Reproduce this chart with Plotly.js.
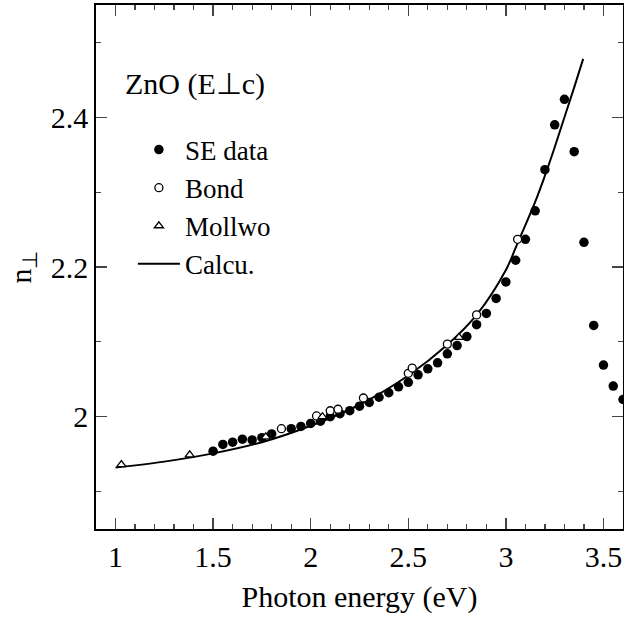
<!DOCTYPE html>
<html>
<head>
<meta charset="utf-8">
<script src="https://cdn.plot.ly/plotly-3.0.1.min.js"></script>
<style>html,body{margin:0;padding:0;background:#fff;}#chart{width:624px;height:623px;}</style>
</head>
<body>
<div id="chart"></div>
<script>
// SE data (filled circles)
const seE = [1.50,1.55,1.60,1.65,1.70,1.75,1.80,1.90,1.95,2.00,2.05,2.10,2.15,2.20,2.25,2.30,2.35,2.40,2.45,2.50,2.55,2.60,2.65,2.70,2.75,2.80,2.85,2.90,2.95,3.00,3.05,3.10,3.15,3.20,3.25,3.30,3.35,3.40,3.45,3.50,3.55,3.60];
const seN = [1.954,1.963,1.966,1.970,1.969,1.972,1.977,1.984,1.987,1.991,1.994,2.000,2.004,2.008,2.014,2.019,2.026,2.032,2.040,2.046,2.056,2.064,2.072,2.084,2.095,2.107,2.123,2.138,2.158,2.180,2.209,2.237,2.275,2.330,2.390,2.424,2.354,2.233,2.122,2.069,2.041,2.023];
// Bond (open circles)
const bondE = [1.85,2.03,2.10,2.14,2.27,2.50,2.52,2.70,2.85,3.06];
const bondN = [1.984,2.001,2.008,2.010,2.025,2.058,2.065,2.097,2.136,2.237];
// Mollwo (open triangles)
const molE = [1.03,1.38,1.77,2.06,2.76];
const molN = [1.936,1.949,1.973,2.000,2.106];
// Calculated curve
const calE = [1.00,1.25,1.50,1.75,2.00,2.25,2.50,2.70,2.85,3.00,3.06,3.15,3.20,3.25,3.30,3.35,3.396];
const calN = [1.932,1.940,1.951,1.966,1.988,2.016,2.055,2.096,2.136,2.196,2.232,2.287,2.322,2.360,2.400,2.440,2.478];

const font = 'Liberation Serif';

const traces = [
  {x: calE, y: calN, mode: 'lines', name: 'Calcu.', legendrank: 4, legendgroup: 'd',
   line: {color: '#000', width: 2, shape: 'spline'}},
  {x: seE, y: seN, mode: 'markers', name: 'SE data', legendrank: 1, legendgroup: 'a',
   marker: {symbol: 'circle', size: 9.5, color: '#000'}},
  {x: bondE, y: bondN, mode: 'markers', name: 'Bond', legendrank: 2, legendgroup: 'b',
   marker: {symbol: 'circle', size: 8, color: '#fff', line: {color: '#000', width: 1.3}}},
  {x: molE, y: molN, mode: 'markers', name: 'Mollwo', legendrank: 3, legendgroup: 'c',
   marker: {symbol: 'triangle-up', size: 8, color: '#fff', line: {color: '#000', width: 1.3}}}
];

const layout = {
  width: 624, height: 623,
  margin: {l: 96, r: 1, t: 5, b: 94},
  paper_bgcolor: '#fff', plot_bgcolor: '#fff',
  font: {family: font, color: '#000', size: 28},
  showlegend: true,
  legend: {x: 0.07, y: 0.77, xanchor: 'left', yanchor: 'top', bgcolor: 'rgba(0,0,0,0)',
           font: {family: font, size: 27}, tracegroupgap: 0, itemwidth: 42},
  xaxis: {range: [0.9, 3.6], tick0: 1, dtick: 0.5, ticks: 'inside', ticklen: 11, tickwidth: 1.5,
          showline: true, linewidth: 1.8, linecolor: '#000', mirror: 'ticks', showgrid: false, zeroline: false,
          tickfont: {family: font, size: 30},
          minor: {dtick: 0.1, ticks: 'inside', ticklen: 5, tickwidth: 1.2, showgrid: false},
          title: {text: 'Photon energy (eV)', font: {family: font, size: 30}, standoff: 14}},
  yaxis: {range: [1.85, 2.55], tick0: 2, dtick: 0.2, ticks: 'inside', ticklen: 11, tickwidth: 1.5,
          showline: true, linewidth: 1.8, linecolor: '#000', mirror: 'ticks', showgrid: false, zeroline: false,
          tickfont: {family: font, size: 30},
          minor: {dtick: 0.1, ticks: 'inside', ticklen: 5, tickwidth: 1.2, showgrid: false},
          title: {text: 'n<sub>⊥</sub>', font: {family: font, size: 30}, standoff: 10}},
  annotations: [{xref: 'paper', yref: 'paper', x: 0.052, y: 0.849, xanchor: 'left', yanchor: 'middle',
                 text: 'ZnO (E⊥c)', showarrow: false, font: {family: font, size: 30}}]
};

Plotly.newPlot('chart', traces, layout, {staticPlot: true, displayModeBar: false});
</script>
</body>
</html>
